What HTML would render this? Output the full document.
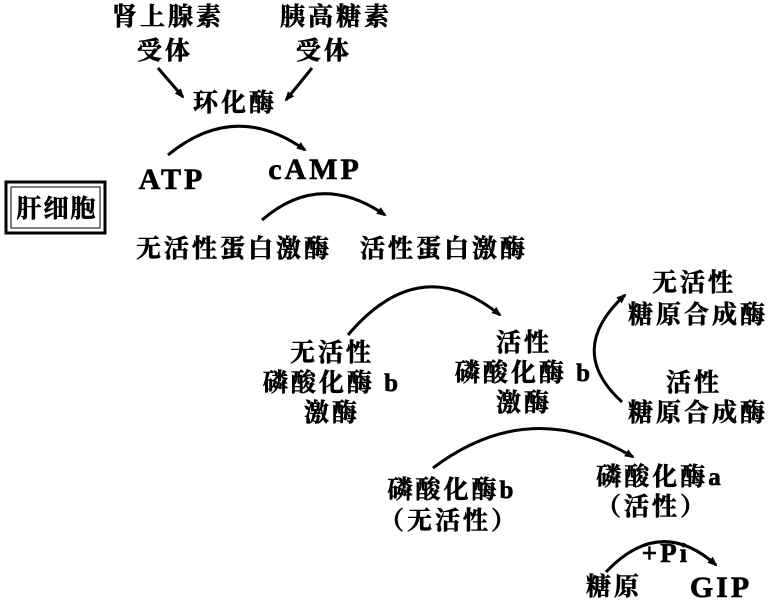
<!DOCTYPE html><html><head><meta charset="utf-8"><style>
body{margin:0;background:#fff}
svg text{font-family:"Liberation Serif","Noto Serif CJK SC",serif;font-weight:bold;fill:#000;text-anchor:middle;stroke:#000;stroke-width:0.6}
</style></head><body>
<svg width="783" height="601" viewBox="0 0 783 601" xmlns="http://www.w3.org/2000/svg">
<defs><marker id="a" markerWidth="10" markerHeight="8" refX="8" refY="4" orient="auto" markerUnits="userSpaceOnUse"><path d="M0,0 L10,4 L0,8 z" fill="#000"/></marker></defs>
<g font-size="25" letter-spacing="3">
<text x="168" y="25">肾上腺素</text><text x="165" y="59">受体</text>
<text x="336" y="25">胰高糖素</text><text x="324" y="59">受体</text>
<text x="235" y="111">环化酶</text>
<text x="234" y="257">无活性蛋白激酶</text><text x="444" y="257">活性蛋白激酶</text>
<text x="332" y="361">无活性</text><text x="332" y="391">磷酸化酶 b</text><text x="332" y="421">激酶</text>
<text x="524" y="351">活性</text><text x="524" y="381">磷酸化酶 b</text><text x="524" y="411">激酶</text>
<text x="694" y="291">无活性</text><text x="698" y="323">糖原合成酶</text>
<text x="694" y="391">活性</text><text x="698" y="421">糖原合成酶</text>
<text x="452" y="498">磷酸化酶b</text><text x="449" y="529">（无活性）</text>
<text x="660" y="485">磷酸化酶a</text><text x="652" y="515">（活性）</text>
<text x="614" y="595">糖原</text>
</g>
<g font-size="30" letter-spacing="3">
<text x="172" y="189">ATP</text><text x="315" y="179">cAMP</text>
<text x="721" y="597">GIP</text>
</g>
<text x="666" y="562" font-size="27" letter-spacing="3">+Pi</text>
<rect x="6" y="182" width="99" height="51" fill="none" stroke="#000" stroke-width="3"/>
<rect x="11" y="187" width="89" height="41" fill="none" stroke="#000" stroke-width="1"/>
<text x="57" y="217" font-size="25" letter-spacing="2">肝细胞</text>
<g fill="none" stroke="#000" stroke-width="3" marker-end="url(#a)">
<path d="M158,68 L183,97"/>
<path d="M312,68 L286,100"/>
<path d="M168,155 Q235,100 305,150"/>
<path d="M262,220 Q320,170 385,215"/>
<path d="M348,335 Q420,250 500,315"/>
<path d="M622,402 Q565,350 625,295"/>
<path d="M433,468 Q530,395 633,457"/>
<path d="M606,572 Q660,515 716,565"/>
</g>
</svg></body></html>
